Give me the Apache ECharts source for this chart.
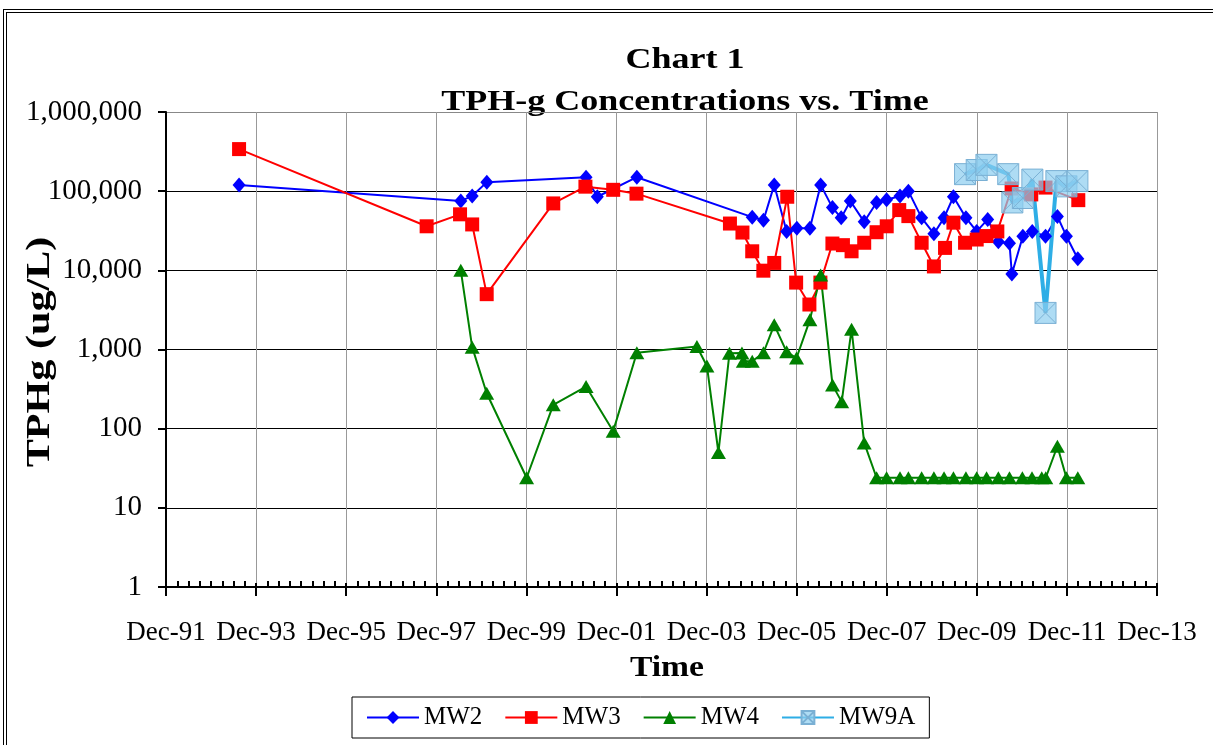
<!DOCTYPE html>
<html>
<head>
<meta charset="utf-8">
<title>Chart 1 - TPH-g Concentrations vs. Time</title>
<script src="https://cdn.jsdelivr.net/npm/echarts@6/dist/echarts.min.js"></script>
<style>
  html, body { margin: 0; padding: 0; background: #fff; overflow: hidden; }
  #frame {
    position: absolute; left: 3px; top: 9px; width: 1300px; height: 900px;
    border: 4px double #000; box-sizing: border-box;
  }
  #myEcharts { position: absolute; left: 0; top: 0; }
</style>
</head>
<body>
<div id="frame"></div>
<div id="myEcharts" style="width: 1213px; height: 745px;"></div>

<script>
// sampling dates and concentrations (ug/L) per well
var mw2Dates = ['1993-07-15', '1998-06-17', '1998-09-18', '1999-01-15', '2001-03-28', '2001-06-28',
  '2002-05-14', '2004-12-06', '2005-03-06', '2005-06-02', '2005-09-11', '2005-12-03', '2006-03-17',
  '2006-06-13', '2006-09-17', '2006-11-27', '2007-02-10', '2007-05-31', '2007-09-10', '2007-11-30',
  '2008-03-17', '2008-05-24', '2008-09-10', '2008-12-18', '2009-03-09', '2009-05-24', '2009-09-04',
  '2009-11-30', '2010-02-28', '2010-05-23', '2010-08-22', '2010-09-11', '2010-12-09', '2011-02-24',
  '2011-06-10', '2011-09-15', '2011-11-27', '2012-02-28'];
var mw2Values = [120000, 75000, 87000, 130000, 150000, 85000,
  150000, 47000, 43000, 120000, 31000, 34000, 34000,
  120000, 62000, 46000, 75000, 41000, 72000, 78000,
  87000, 100000, 46000, 29000, 46000, 85000, 46000,
  31000, 44000, 23000, 22000, 9000, 27000, 31000,
  27000, 48000, 27000, 14000];

var mw3Dates = ['1993-07-15', '1997-09-14', '1998-06-11', '1998-09-18', '1999-01-14', '2000-07-06',
  '2001-03-23', '2001-11-05', '2002-05-11', '2004-06-08', '2004-09-18', '2004-12-06', '2005-03-05',
  '2005-06-02', '2005-09-16', '2005-11-27', '2006-03-13', '2006-06-11', '2006-09-17', '2006-12-11',
  '2007-02-20', '2007-05-31', '2007-09-10', '2007-12-01', '2008-03-11', '2008-05-24', '2008-09-10',
  '2008-12-18', '2009-03-17', '2009-05-24', '2009-08-27', '2009-11-30', '2010-02-18', '2010-05-15',
  '2010-09-09', '2011-02-16', '2011-06-10', '2012-03-02'];
var mw3Values = [340000, 36000, 51000, 38000, 5000, 70000,
  114000, 104000, 93000, 39000, 30000, 17400, 9900,
  12400, 85000, 7000, 3700, 7000, 21800, 20800,
  17400, 22300, 30300, 36000, 57700, 48400, 22300,
  11200, 19200, 40000, 22300, 24500, 27100, 31000,
  108000, 91000, 111000, 77000];

var mw4Dates = ['1998-06-17', '1998-09-18', '1999-01-14', '1999-12-03', '2000-07-06', '2001-03-28',
  '2001-11-05', '2002-05-14', '2003-09-14', '2003-12-04', '2004-03-06', '2004-06-04', '2004-09-14',
  '2004-09-25', '2004-12-06', '2005-03-06', '2005-06-02', '2005-09-11', '2005-11-30', '2006-03-17',
  '2006-06-13', '2006-09-18', '2006-12-01', '2007-02-20', '2007-05-31', '2007-09-10', '2007-11-30',
  '2008-03-17', '2008-05-24', '2008-09-10', '2008-12-18', '2009-03-09', '2009-05-24', '2009-09-04',
  '2009-11-30', '2010-02-19', '2010-05-23', '2010-08-22', '2010-12-05', '2011-02-22', '2011-05-10',
  '2011-06-12', '2011-09-15', '2011-11-27', '2012-02-28'];
var mw4Values = [10000, 1070, 280, 24, 200, 340,
  93, 910, 1090, 620, 50, 895, 900,
  710, 710, 910, 2050, 935, 780, 2370,
  8700, 355, 218, 1800, 66, 24, 24,
  24, 24, 24, 24, 24, 24, 24,
  24, 24, 24, 24, 24, 24, 24,
  24, 60, 24, 24];

var mw9aDates = ['2009-08-27', '2009-11-30', '2010-02-18', '2010-08-12', '2010-09-15', '2010-12-09',
  '2011-02-25', '2011-06-10', '2011-09-07', '2011-11-27', '2012-02-25'];
var mw9aValues = [164000, 185000, 215000, 164000, 72000, 82000,
  140000, 2900, 134000, 115000, 134000];

var yTicks = [1, 10, 100, 1000, 10000, 100000, 1000000];

// months counted from Dec-91, the left end of the axis
function toMonths(s) {
  var p = s.split('-');
  return (+p[0] - 1991) * 12 + (+p[1] - 12) + (+p[2] - 1) / 30;
}
function pairs(dates, vals) {
  return dates.map(function (d, i) { return [toMonths(d), vals[i]]; });
}

var serif = 'Liberation Serif, Times New Roman, serif';
var xBox = 'path://M0,0 L10,0 L10,10 L0,10 Z M0,0 L10,10 M10,0 L0,10';

var chart = echarts.init(document.getElementById('myEcharts'));
chart.setOption({
  animation: false,
  backgroundColor: 'transparent',
  graphic: [
    {
      type: 'text', x: 685, y: 60, scaleX: 1.2,
      style: { text: 'Chart 1', font: 'bold 30px ' + serif, fill: '#000', align: 'center', verticalAlign: 'middle' }
    },
    {
      type: 'text', x: 685, y: 102, scaleX: 1.2,
      style: { text: 'TPH-g Concentrations vs. Time', font: 'bold 30px ' + serif, fill: '#000', align: 'center', verticalAlign: 'middle' }
    },
    {
      type: 'text', x: 40, y: 352, rotation: Math.PI / 2, scaleX: 1.24,
      style: { text: 'TPHg (ug/L)', font: 'bold 34px ' + serif, fill: '#000', align: 'center', verticalAlign: 'middle' }
    },
    {
      type: 'text', x: 667, y: 668, scaleX: 1.12,
      style: { text: 'Time', font: 'bold 30px ' + serif, fill: '#000', align: 'center', verticalAlign: 'middle' }
    }
  ],
  legend: {
    left: 352, top: 697,
    padding: [8, 14],
    itemWidth: 52, itemHeight: 16, itemGap: 22,
    borderColor: '#000', borderWidth: 1,
    textStyle: { fontFamily: serif, fontSize: 25, color: '#000' },
    data: ['MW2', 'MW3', 'MW4', 'MW9A']
  },
  grid: { left: 166, right: 56, top: 112, bottom: 158 },
  xAxis: [
    {
      type: 'value', min: 0, max: 264, interval: 24,
      axisLine: { lineStyle: { color: '#000', width: 2 } },
      axisTick: { show: true, inside: false, length: 9, lineStyle: { color: '#000', width: 2 } },
      axisLabel: {
        margin: 32, color: '#000', fontFamily: serif, fontSize: 27,
        formatter: function (v) {
          var y = 1991 + Math.round(v / 12);
          return 'Dec-' + String(y % 100).padStart(2, '0');
        }
      },
      splitLine: { show: true, lineStyle: { color: '#999', width: 1 } }
    },
    {
      type: 'value', min: 0, max: 264, interval: 24, position: 'bottom',
      axisLine: { show: false },
      axisTick: { show: true, inside: true, length: 4, lineStyle: { color: '#000', width: 2 } },
      minorTick: { show: true, splitNumber: 8, length: 6, lineStyle: { color: '#000', width: 2 } },
      axisLabel: { show: false },
      splitLine: { show: false }
    }
  ],
  yAxis: {
    type: 'log', logBase: 10, min: 1, max: 1000000,
    axisLine: { show: true, lineStyle: { color: '#000', width: 2 } },
    axisTick: { show: true, inside: false, length: 8, lineStyle: { color: '#000', width: 2 } },
    axisLabel: {
      margin: 24, color: '#000', fontFamily: serif, fontSize: 29,
      formatter: function (v) {
        var t = yTicks.reduce(function (a, b) { return Math.abs(b - v) < Math.abs(a - v) ? b : a; });
        return t.toLocaleString('en-US');
      }
    },
    splitLine: { show: true, lineStyle: { color: ['#000', '#000', '#000', '#000', '#000', '#000', '#888'], width: 1.2 } }
  },
  series: [
    {
      name: 'MW2', type: 'line', xAxisIndex: 0,
      symbol: 'diamond', symbolSize: [13, 15],
      itemStyle: { color: '#0000ff' },
      lineStyle: { color: '#0000ff', width: 2 },
      data: pairs(mw2Dates, mw2Values)
    },
    {
      name: 'MW3', type: 'line', xAxisIndex: 0,
      symbol: 'rect', symbolSize: 14,
      itemStyle: { color: '#ff0000' },
      lineStyle: { color: '#ff0000', width: 2 },
      data: pairs(mw3Dates, mw3Values)
    },
    {
      name: 'MW4', type: 'line', xAxisIndex: 0,
      symbol: 'triangle', symbolSize: [15, 13],
      itemStyle: { color: '#008000' },
      lineStyle: { color: '#008000', width: 2 },
      data: pairs(mw4Dates, mw4Values)
    },
    {
      name: 'MW9A', type: 'line', xAxisIndex: 0,
      symbol: xBox, symbolSize: 21,
      itemStyle: { color: 'rgba(140, 205, 240, 0.7)', borderColor: '#7ab0d4', borderWidth: 1 },
      lineStyle: { color: '#2eaee6', width: 4 },
      data: pairs(mw9aDates, mw9aValues)
    }
  ]
});
window.onresize = function () {
  chart.resize();
};
</script>
</body>
</html>
